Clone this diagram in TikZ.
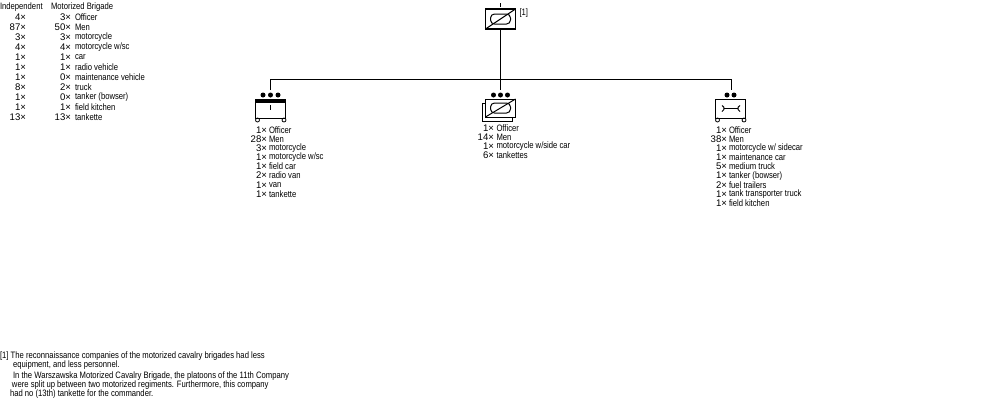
\documentclass[tikz,border=0pt]{standalone}
\usepackage{fontspec}
\setmainfont{Liberation Sans}[FakeStretch=0.825]
\newfontfamily\cntfont{Liberation Sans}
\usepackage{xcolor}
\usetikzlibrary{positioning}

\begin{document}
\begin{tikzpicture}[
      x=1pt, y=-1pt,
      every node/.style = {inner sep=0pt, outer sep=0pt, font=\fontsize{9.3}{10}\selectfont},
      unitbox/.style = {draw, line width=1pt, minimum width=30pt, minimum height=19pt},
      hqbox/.style   = {draw, line width=1.5pt, minimum width=30pt, minimum height=20pt},
      oval/.style    = {draw, line width=1pt, rounded corners=4pt, minimum width=20pt, minimum height=10pt},
      dot/.style     = {circle, fill=black, minimum size=5pt},
      wheel/.style   = {circle, draw, line width=0.8pt, minimum size=4pt},
      cnt/.style     = {anchor=east, font=\cntfont\fontsize{9.6}{10}\selectfont},
      lbl/.style     = {anchor=west},
      conn/.style    = {line width=1pt}
  ]
  \useasboundingbox (0,0) rectangle (1000,400);

  % --- Comparison table ---
  \node[anchor=west] (headI) at (0,7)  {Independent};
  \node[anchor=west] (headM) at (51,7) {Motorized Brigade};
  \foreach \ci/\cm/\name [count=\i] in {4/3/Officer, 87/50/Men, 3/3/motorcycle, 4/4/{motorcycle w/sc},
      1/1/car, 1/1/radio vehicle, 1/0/maintenance vehicle, 8/2/truck,
      1/0/tanker (bowser), 1/1/field kitchen, 13/13/tankette} {
    \node[cnt] (ci\i) at (26,{7+10*\i}) {\ci×};
    \node[cnt] (cm\i) at (71,{7+10*\i}) {\cm×};
    \node[lbl] (nm\i) at (75,{7+10*\i}) {\name};
  }

  % --- Company HQ ---
  \node[hqbox] (hq) at (500.5,19) {};
  \node[oval] (hqoval) at (hq) {};
  \draw[conn] (hq.south west) -- (hq.north east);
  \node[anchor=west, right=4pt of hq.north east, yshift=-4pt] (note) {[1]};
  \coordinate (hqtop) at (500.5,3);
  \coordinate (hqtick) at (500.5,7);
  \draw[conn] (hqtop) -- (hqtick);

  % --- Tree lines ---
  \coordinate (busL) at (270.5,79);
  \coordinate (busC) at (500.5,79);
  \coordinate (busR) at (731,79);
  \coordinate (dropL) at (270.5,90);
  \coordinate (dropC) at (500.5,90);
  \coordinate (dropR) at (731,90);
  \draw[conn] (hq) -- (dropC);
  \draw[conn] (dropL) -- (busL) -- (busR) -- (dropR);

  % --- Command platoon ---
  \node[unitbox] (cmd) at (270.5,108.5) {};
  \fill (cmd.north west) rectangle ([yshift=-4pt]cmd.north east);
  \node[wheel] (cmdW1) at (257.5,120) {};
  \node[wheel] (cmdW2) at (284,120) {};
  \foreach \x in {263,270.5,278} \node[dot] (cmdD\x) at (\x,95) {};
  \coordinate (cmdT1) at (270.5,105);
  \coordinate (cmdT2) at (270.5,110);
  \draw[conn] (cmdT1) -- (cmdT2);
  \foreach \c/\name [count=\i] in {1/Officer, 28/Men, 3/motorcycle, 1/{motorcycle w/sc},
      1/field car, 2/radio van, 1/van, 1/tankette} {
    \node[cnt] (cmdC\i) at (267,{121+9.1*\i}) {\c×};
    \node[lbl] (cmdN\i) at (269,{121+9.1*\i}) {\name};
  }

  % --- Tankette platoons ---
  \node[unitbox, minimum height=18pt] (back) at (497,112) {};
  \node[unitbox, fill=white, minimum height=18pt] (tank) at (500.5,108) {};
  \node[oval] (tankoval) at (tank) {};
  \draw[conn] (tank.south west) -- (tank.north east);
  \foreach \x in {493.5,500.5,507.5} \node[dot] (tankD\x) at (\x,95) {};
  \foreach \c/\name [count=\i] in {1/Officer, 14/Men, 1/{motorcycle w/side car}, 6/tankettes} {
    \node[cnt] (tankC\i) at (494,{118.5+9.2*\i}) {\c×};
    \node[lbl] (tankN\i) at (496.5,{118.5+9.2*\i}) {\name};
  }

  % --- Repair platoon ---
  \node[unitbox] (rep) at (730.5,108.5) {};
  \node[wheel] (repW1) at (717.5,120) {};
  \node[wheel] (repW2) at (744,120) {};
  \foreach \x in {727,734} \node[dot] (repD\x) at (\x,95) {};
  \coordinate (repA) at (724,108.5);
  \coordinate (repB) at (738,108.5);
  \draw[conn] (repA) -- (repB);
  \draw[conn] (722,105.5) arc[start angle=70, end angle=-70, radius=3.2pt];
  \draw[conn] (740,105.5) arc[start angle=110, end angle=250, radius=3.2pt];
  \foreach \c/\name [count=\i] in {1/Officer, 38/Men, 1/{motorcycle w/ sidecar}, 1/maintenance car,
      5/medium truck, 1/tanker (bowser), 2/fuel trailers, 1/tank transporter truck, 1/field kitchen} {
    \node[cnt] (repC\i) at (727,{121+9.1*\i}) {\c×};
    \node[lbl] (repN\i) at (729,{121+9.1*\i}) {\name};
  }

  % --- Footnote ---
  \node[lbl] (fn1) at (0,356)    {[1] The reconnaissance companies of the motorized cavalry brigades had less};
  \node[lbl] (fn2) at (13,365.5) {equipment, and less personnel.};
  \node[lbl] (fn3) at (13,376)   {In the Warszawska Motorized Cavalry Brigade, the platoons of the 11th Company};
  \node[lbl] (fn4) at (12,385)   {were split up between two motorized regiments. Furthermore, this company};
  \node[lbl] (fn5) at (10,394)   {had no (13th) tankette for the commander.};

\end{tikzpicture}
\end{document}
